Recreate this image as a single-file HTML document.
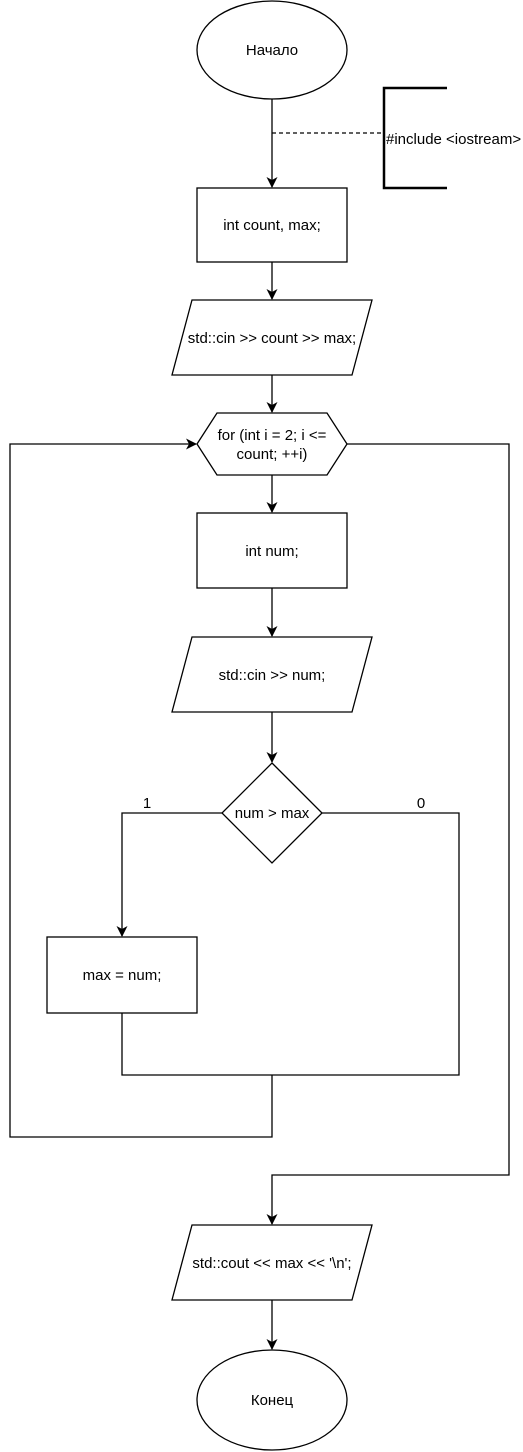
<!DOCTYPE html>
<html><head><meta charset="utf-8"><style>body{margin:0;background:#fff}svg{display:block}text{font-family:"Liberation Sans","DejaVu Sans",sans-serif;font-size:15px;fill:#000}</style></head><body>
<svg width="523" height="1452" viewBox="0 0 523 1452" xmlns="http://www.w3.org/2000/svg">
<defs><marker id="a" markerWidth="12" markerHeight="12" refX="10" refY="5.5" orient="auto" markerUnits="userSpaceOnUse"><path d="M0,0 L11,5.5 L0,11 L3,5.5 Z" fill="#000"/></marker></defs>
<g fill="none" stroke="#000" stroke-width="1.3">
<ellipse cx="272" cy="50" rx="75" ry="49" fill="#fff"/>
<line x1="272" y1="99" x2="272" y2="187" marker-end="url(#a)"/>
<line x1="272" y1="133" x2="384" y2="133" stroke-dasharray="4,3"/>
<path d="M447,88 H384 V188 H447" stroke-width="2.5"/>
<rect x="197" y="188" width="150" height="74"/>
<line x1="272" y1="262" x2="272" y2="299" marker-end="url(#a)"/>
<polygon points="192,300 372,300 352,375 172,375"/>
<line x1="272" y1="375" x2="272" y2="412" marker-end="url(#a)"/>
<polygon points="197,444 217,413 327,413 347,444 327,475 217,475"/>
<line x1="272" y1="475" x2="272" y2="512" marker-end="url(#a)"/>
<rect x="197" y="513" width="150" height="75"/>
<line x1="272" y1="588" x2="272" y2="636" marker-end="url(#a)"/>
<polygon points="192,637 372,637 352,712 172,712"/>
<line x1="272" y1="712" x2="272" y2="762" marker-end="url(#a)"/>
<polygon points="272,763 322,813 272,863 222,813"/>
<polyline points="222,813 122,813 122,936" marker-end="url(#a)"/>
<polyline points="322,813 459,813 459,1075 122,1075 122,1013"/>
<rect x="47" y="937" width="150" height="76"/>
<polyline points="272,1075 272,1137 10,1137 10,444 196,444" marker-end="url(#a)"/>
<polyline points="347,444 509,444 509,1175 272,1175 272,1224" marker-end="url(#a)"/>
<polygon points="192,1225 372,1225 352,1300 172,1300"/>
<line x1="272" y1="1300" x2="272" y2="1349" marker-end="url(#a)"/>
<ellipse cx="272" cy="1400" rx="75" ry="50"/>
</g>
<g text-anchor="middle">
<text x="272" y="55">Начало</text>
<text x="272" y="230">int count, max;</text>
<text x="272" y="343">std::cin &gt;&gt; count &gt;&gt; max;</text>
<text x="272" y="440">for (int i = 2; i &lt;=</text>
<text x="272" y="459">count; ++i)</text>
<text x="272" y="556">int num;</text>
<text x="272" y="680">std::cin &gt;&gt; num;</text>
<text x="272" y="818">num &gt; max</text>
<text x="122" y="980">max = num;</text>
<text x="272" y="1268">std::cout &lt;&lt; max &lt;&lt; '\n';</text>
<text x="272" y="1405">Конец</text>
<text x="147" y="808">1</text>
<text x="421" y="808">0</text>
</g>
<text x="386" y="144">#include &lt;iostream&gt;</text>
</svg>
</body></html>
